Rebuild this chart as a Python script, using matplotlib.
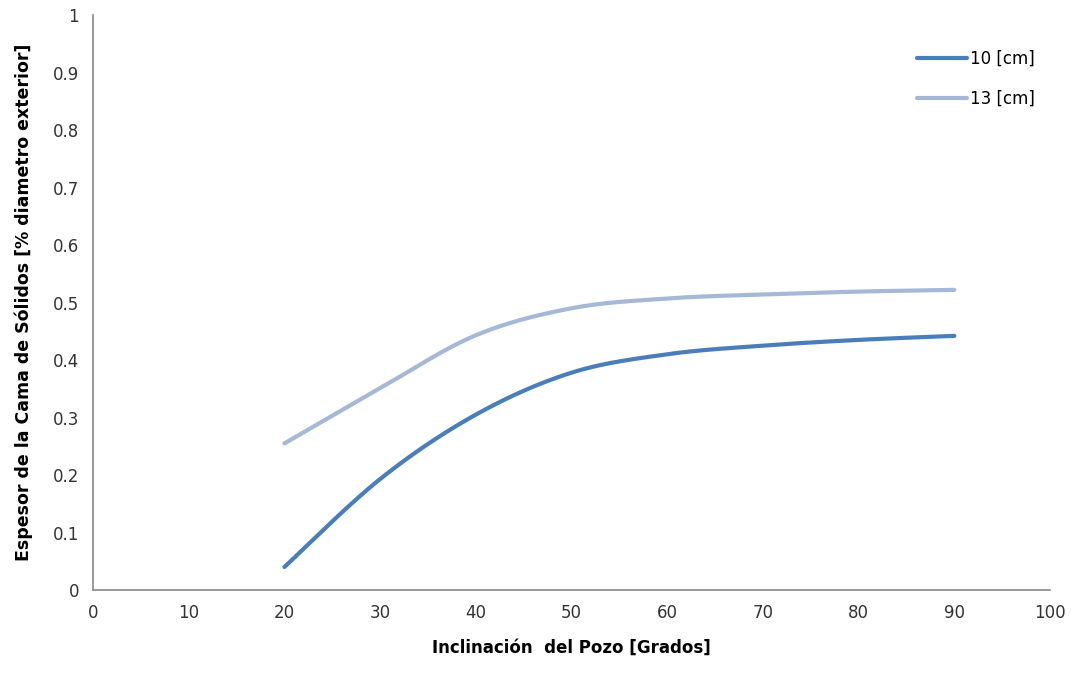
import matplotlib
matplotlib.use("Agg")
import matplotlib.pyplot as plt
import numpy as np

# valores
inclinacion = [20, 30, 40, 50, 60, 70, 80, 90]
espesor_10cm = [0.04, 0.193, 0.305, 0.378, 0.410, 0.425, 0.435, 0.442]
espesor_13cm = [0.255, 0.351, 0.443, 0.490, 0.507, 0.514, 0.519, 0.522]
series_labels = ["10 [cm]", "13 [cm]"]
series_colors = ["#4A7EBB", "#A5B8D6"]


def smooth(x, y, n=30):
    # suavizado tipo Excel (Bezier con tangentes Catmull-Rom)
    x = np.asarray(x, float)
    y = np.asarray(y, float)
    px = np.concatenate([[x[0]], x, [x[-1]]])
    py = np.concatenate([[y[0]], y, [y[-1]]])
    xs, ys = [], []
    t = np.linspace(0, 1, n)
    for i in range(1, len(px) - 2):
        p0 = np.array([px[i], py[i]])
        p3 = np.array([px[i + 1], py[i + 1]])
        p1 = p0 + (np.array([px[i + 1], py[i + 1]]) - np.array([px[i - 1], py[i - 1]])) / 6
        p2 = p3 - (np.array([px[i + 2], py[i + 2]]) - np.array([px[i], py[i]])) / 6
        b = ((1 - t) ** 3)[:, None] * p0 + (3 * (1 - t) ** 2 * t)[:, None] * p1 \
            + (3 * (1 - t) * t ** 2)[:, None] * p2 + (t ** 3)[:, None] * p3
        xs.extend(b[:, 0])
        ys.extend(b[:, 1])
    return xs, ys


fig = plt.figure(figsize=(10.74, 6.73), dpi=100)
ax = fig.add_axes([0.0866, 0.1233, 0.8911, 0.8544])

for vals, lab, col in zip([espesor_10cm, espesor_13cm], series_labels, series_colors):
    sx, sy = smooth(inclinacion, vals)
    ax.plot(sx, sy, color=col, lw=3, label=lab, solid_capstyle="round")

ax.set_xlim(0, 100)
ax.set_ylim(0, 1)
ax.set_xticks(range(0, 101, 10))
ax.set_yticks(np.arange(0, 1.01, 0.1))
ax.set_yticklabels(["0", "0.1", "0.2", "0.3", "0.4", "0.5", "0.6", "0.7", "0.8", "0.9", "1"])
ax.tick_params(length=0, labelsize=12, colors="#333333", pad=10)
for s in ["top", "right"]:
    ax.spines[s].set_visible(False)
for s in ["left", "bottom"]:
    ax.spines[s].set_color("#888888")
    ax.spines[s].set_linewidth(1.2)

ax.set_xlabel("Inclinación  del Pozo [Grados]", fontsize=12, fontweight="bold", labelpad=12)
ax.set_ylabel("Espesor de la Cama de Sólidos [% diametro exterior]", fontsize=12.5,
              fontweight="bold", labelpad=14)

leg = ax.legend(loc="upper right", bbox_to_anchor=(1.0, 0.965), frameon=False, fontsize=12,
                handlelength=3.0, handletextpad=0.2, labelspacing=1.3)

fig.savefig("out.png", dpi=100)
